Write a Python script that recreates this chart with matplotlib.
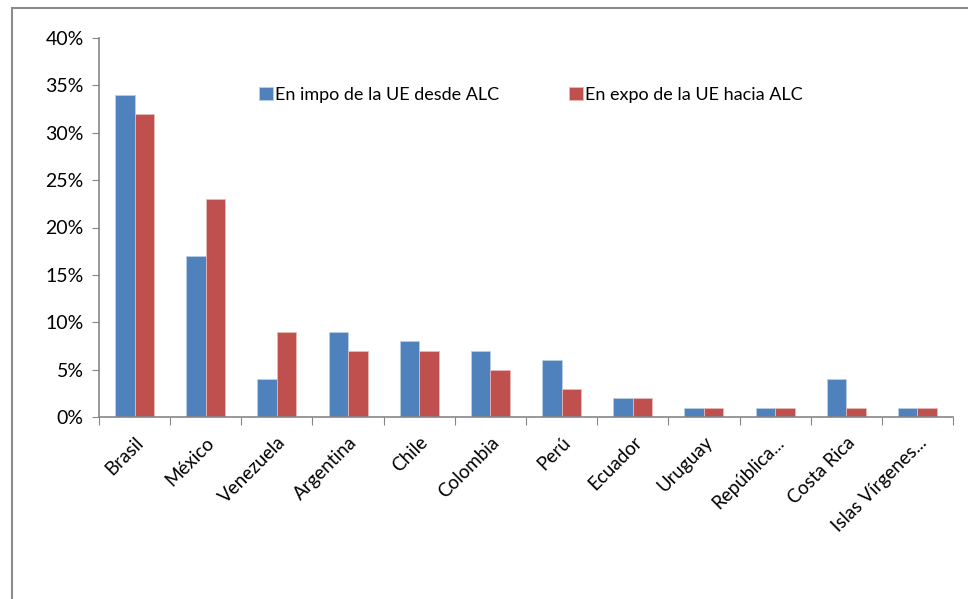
import matplotlib
matplotlib.use("Agg")
import matplotlib.pyplot as plt
import matplotlib.patches as mpatches
from matplotlib.ticker import FuncFormatter
import numpy as np

# data (percent)
paises = ['Brasil', 'México', 'Venezuela', 'Argentina', 'Chile', 'Colombia',
          'Perú', 'Ecuador', 'Uruguay', 'República...', 'Costa Rica', 'Islas Vírgenes...']
impo_ue = [34, 17, 4, 9, 8, 7, 6, 2, 1, 1, 4, 1]
expo_ue = [32, 23, 9, 7, 7, 5, 3, 2, 1, 1, 1, 1]
y_ticks = [0, 5, 10, 15, 20, 25, 30, 35, 40]

BLUE = '#4F81BD'
RED = '#C0504D'
GREY = '#868686'

plt.rcParams['font.family'] = ['Lato', 'DejaVu Sans']

fig = plt.figure(figsize=(9.68, 5.99), dpi=100)
ax = fig.add_axes([99 / 968, 1 - 417 / 599, (953 - 99) / 968, (417 - 38) / 599])

x = np.arange(len(paises))
w = 0.275
ax.bar(x - w / 2, impo_ue, w, color=BLUE, edgecolor='#b9cde5', linewidth=0.6,
       label='En impo de la UE desde ALC')
ax.bar(x + w / 2, expo_ue, w, color=RED, edgecolor='#e6b9b8', linewidth=0.6,
       label='En expo de la UE hacia ALC')

ax.set_xlim(-0.5, len(paises) - 0.5)
ax.set_ylim(0, 40)
ax.set_yticks(y_ticks)
ax.yaxis.set_major_formatter(FuncFormatter(lambda v, p: f'{v:.0f}%'))
ax.tick_params(axis='y', length=5, color=GREY, labelsize=14, pad=6)

# category ticks sit between the groups, labels at the centres
ax.set_xticks(np.arange(len(paises) + 1) - 0.5)
ax.set_xticklabels([])
ax.set_xticks(x, minor=True)
ax.set_xticklabels(paises, minor=True, rotation=45, ha='right', va='top',
                   rotation_mode='anchor', fontsize=13.5)
ax.tick_params(axis='x', which='major', length=6, color=GREY)
ax.tick_params(axis='x', which='minor', length=0, pad=12)

for s in ['top', 'right']:
    ax.spines[s].set_visible(False)
for s in ['left', 'bottom']:
    ax.spines[s].set_color(GREY)
    ax.spines[s].set_linewidth(1.2)

ax.legend(loc='upper left', bbox_to_anchor=(0.179, 0.89), ncol=2, frameon=False,
          fontsize=13, handlelength=0.75, handleheight=0.75, handletextpad=0.12,
          columnspacing=3.9, borderaxespad=0)

# outer chart frame (cut off at right and bottom like the original)
fig.patches.append(mpatches.Rectangle((12 / 968, -0.1), 1.2, 1.1 - 8 / 599,
                                      transform=fig.transFigure, fill=False,
                                      edgecolor='#8c8c8c', linewidth=1.5))

fig.savefig('out.png', dpi=100)
